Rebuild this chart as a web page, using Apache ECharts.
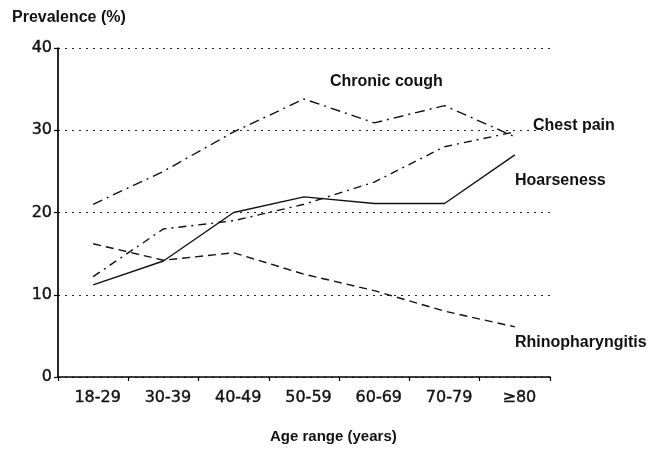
<!DOCTYPE html>
<html>
<head>
<meta charset="utf-8">
<script src="https://cdn.jsdelivr.net/npm/echarts@6/dist/echarts.min.js"></script>
<style>html,body{margin:0;padding:0;background:#fff}#c{width:651px;height:450px}</style>
</head>
<body>
<div id="c"></div>
<script>
var categories = ['18-29', '30-39', '40-49', '50-59', '60-69', '70-79', '\u226580'];
var chronicCough = [21, 25, 29.8, 33.8, 30.9, 33, 29.2];
var chestPain = [12.2, 18, 19, 21, 23.7, 28, 29.8];
var hoarseness = [11.2, 14.1, 20, 21.9, 21.1, 21.1, 27];
var rhinopharyngitis = [16.2, 14.2, 15.1, 12.5, 10.5, 8, 6.1];
var yTicks = [0, 10, 20, 30, 40];

var chart = echarts.init(document.getElementById('c'), null, {renderer: 'canvas'});
var lineStyleBase = {color: '#111', width: 1.4};
function mkSeries(name, data, dash) {
  return {
    name: name, type: 'line', data: data, symbol: 'none', silent: true,
    lineStyle: Object.assign({}, lineStyleBase, {type: dash}),
    z: 3
  };
}
var labelFont = {fontFamily: '"Liberation Sans", Arial, sans-serif', fontSize: 16, fontWeight: 'bold', fill: '#111'};
var tickFont = {color: '#111', fontFamily: '"DejaVu Sans", Verdana, sans-serif', fontSize: 16, textBorderColor: '#111', textBorderWidth: 0.4};
chart.setOption({
  animation: false,
  backgroundColor: '#fff',
  grid: {left: 58, right: 101, top: 48, bottom: 73, containLabel: false},
  xAxis: {
    type: 'category', data: categories, boundaryGap: true,
    axisLine: {lineStyle: {color: '#000', width: 1.7}},
    axisTick: {show: true, length: 4, lineStyle: {color: '#000', width: 1.2}},
    axisLabel: Object.assign({margin: 13, padding: [0, 0, 0, 9], interval: 0}, tickFont),
    splitLine: {show: false}
  },
  yAxis: {
    type: 'value', min: yTicks[0], max: yTicks[yTicks.length - 1], interval: 10,
    axisLine: {show: true, lineStyle: {color: '#000', width: 1.7}},
    axisTick: {show: true, length: 4, lineStyle: {color: '#000', width: 1.2}},
    axisLabel: Object.assign({margin: 6}, tickFont),
    splitLine: {show: true, lineStyle: {color: '#222', width: 1.2, type: [2, 5]}}
  },
  series: [
    mkSeries('Chronic cough', chronicCough, [10, 5, 2, 5]),
    mkSeries('Chest pain', chestPain, [8, 5, 2, 5]),
    mkSeries('Hoarseness', hoarseness, 'solid'),
    mkSeries('Rhinopharyngitis', rhinopharyngitis, [8, 5])
  ],
  graphic: [
    {type: 'text', left: 12, top: 10, style: {text: 'Prevalence (%)', fontFamily: '"Liberation Sans", Arial, sans-serif', fontSize: 16, fontWeight: 'bold', fill: '#111'}},
    {type: 'text', left: 270, top: 429, style: {text: 'Age range (years)', fontFamily: '"Liberation Sans", Arial, sans-serif', fontSize: 15, fontWeight: 'bold', fill: '#111'}},
    {type: 'text', left: 330, top: 74, style: Object.assign({text: 'Chronic cough'}, labelFont)},
    {type: 'text', left: 533, top: 118, style: Object.assign({text: 'Chest pain'}, labelFont)},
    {type: 'text', left: 515, top: 173, style: Object.assign({text: 'Hoarseness'}, labelFont)},
    {type: 'text', left: 515, top: 335, style: Object.assign({text: 'Rhinopharyngitis'}, labelFont)}
  ]
});
</script>
</body>
</html>
